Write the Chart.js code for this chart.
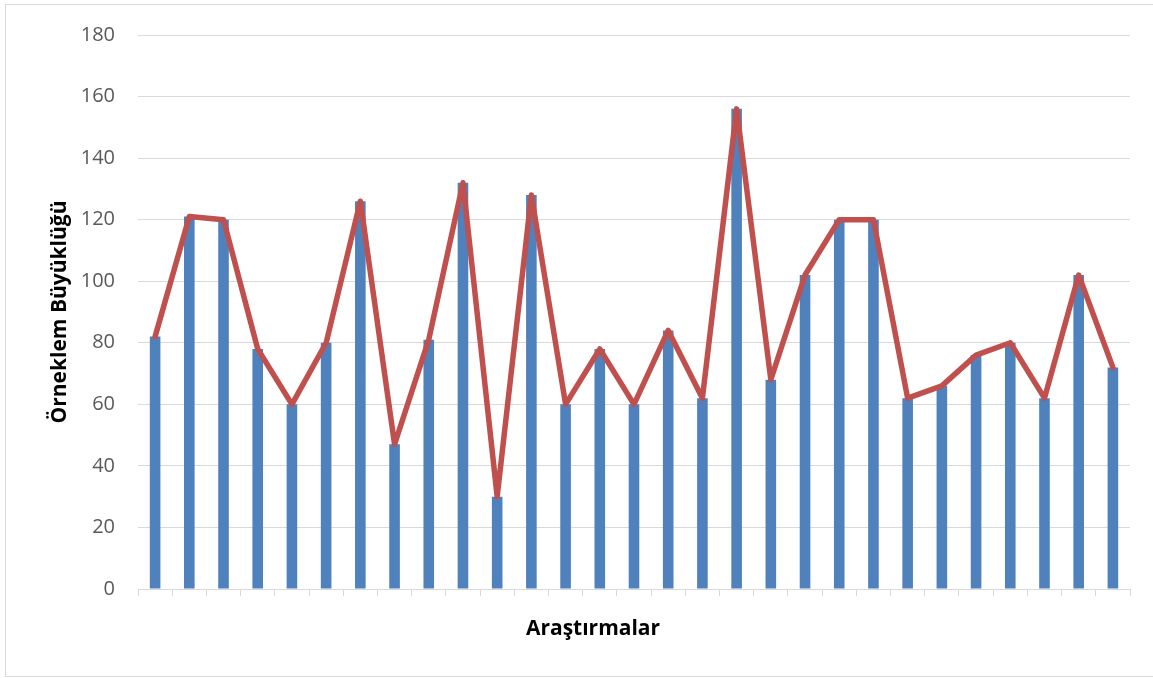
<!DOCTYPE html>
<html>
<head>
<meta charset="utf-8">
<script src="https://cdn.jsdelivr.net/npm/chart.js@4/dist/chart.umd.min.js"></script>
<style>
    html, body { margin: 0; padding: 0; background: #ffffff; }
    #wrap { width: 1153px; height: 678px; position: relative; }
</style>
</head>
<body>
<div id="wrap"><canvas id="sampleChart"></canvas></div>
<script>

// one entry per study (no labels shown on the axis)
const studies =
    Array.from({ length: 29 }, (_, i) => String(i + 1));

const sampleSizes = [
    82, 121, 120, 78, 60, 80, 126, 47, 81, 132,
    30, 128, 60, 78, 60, 84, 62, 156, 68, 102,
    120, 120, 62, 66, 76, 80, 62, 102, 72
];

const yTicks = [0, 20, 40, 60, 80, 100, 120, 140, 160, 180];

const xTitle = "Araştırmalar";

// white page, light frame, and the x title centred on the whole frame
const frame = {
    id: "frame",
    beforeDraw(chart) {
        const ctx = chart.ctx;
        ctx.save();
        ctx.fillStyle = "#ffffff";
        ctx.fillRect(0, 0, chart.width, chart.height);
        ctx.strokeStyle = "#d9d9d9";
        ctx.lineWidth = 1;
        ctx.strokeRect(5.5, 4.5, chart.width + 20, 672);
        ctx.restore();
    },
    afterDraw(chart) {
        const ctx = chart.ctx;
        ctx.save();
        ctx.fillStyle = "#000000";
        ctx.font = "bold 21px 'Open Sans'";
        ctx.textAlign = "center";
        ctx.textBaseline = "middle";
        ctx.fillText(xTitle, 593, 629);
        ctx.restore();
    }
};

renderSampleChart();

function renderSampleChart() {

    new Chart(

        document.getElementById("sampleChart"),

        {
            type: "bar",

            data: {

                labels: studies,

                datasets: [
                    {
                        type: "line",
                        data: sampleSizes,
                        borderColor: "#C0504D",
                        borderWidth: 5.5,
                        borderJoinStyle: "round",
                        borderCapStyle: "round",
                        pointRadius: 0,
                        tension: 0,
                        order: 0
                    },
                    {
                        type: "bar",
                        data: sampleSizes,
                        backgroundColor: "#4F81BD",
                        barPercentage: 0.31,
                        categoryPercentage: 1,
                        order: 1
                    }
                ]
            },

            options: {

                responsive: true,
                maintainAspectRatio: false,
                animation: false,

                layout: {
                    padding: { left: 0, right: 23, top: 35, bottom: 0 }
                },

                plugins: {
                    legend: { display: false },
                    tooltip: { enabled: false }
                },

                scales: {

                    x: {
                        afterFit(scale) { scale.height = 89; },
                        grid: {
                            drawOnChartArea: false,
                            drawTicks: true,
                            tickLength: 7,
                            color: "#d9d9d9",
                            offset: true
                        },
                        border: { color: "#d9d9d9", width: 1 },
                        ticks: { display: false },
                        title: { display: false }
                    },

                    y: {
                        min: 0,
                        max: 180,
                        afterFit(scale) { scale.width = 138; },
                        afterBuildTicks(scale) {
                            scale.ticks = yTicks.map(v => ({ value: v }));
                        },
                        grid: {
                            color: "#d9d9d9",
                            lineWidth: 1,
                            drawTicks: false
                        },
                        border: { display: false },
                        ticks: {
                            padding: 23,
                            color: "#595959",
                            font: { family: "Open Sans", size: 20 }
                        },
                        title: {
                            display: true,
                            text: "Örneklem Büyüklüğü",
                            color: "#000000",
                            font: { family: "Open Sans", size: 21, weight: "bold" },
                            padding: { top: 47, bottom: 0 }
                        }
                    }
                }
            },

            plugins: [frame]
        }

    );

}

</script>
</body>
</html>
